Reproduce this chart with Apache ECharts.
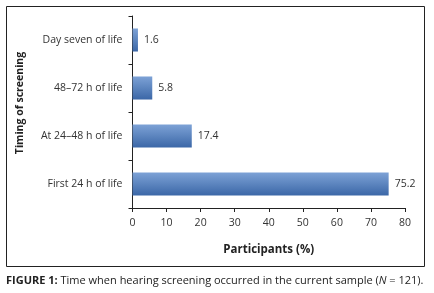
<!DOCTYPE html>
<html>
<head>
    <meta charset="utf-8" />
    <title>Hearing screening timing</title>
    <script src="https://cdn.jsdelivr.net/npm/echarts@6/dist/echarts.min.js"></script>
    <style type="text/css">
        * { margin: 0; padding: 0; }
        html, body { width: 434px; height: 293px; background: #fff; }
        #chart { width: 434px; height: 293px; }
    </style>
</head>
<body>
    <div id="chart"></div>
</body>
</html>
<script type="text/javascript">
    // categories listed bottom to top
    var categories = ['First 24 h of life', 'At 24\u201348 h of life', '48\u201372 h of life', 'Day seven of life'];
    var values = [75.2, 17.4, 5.8, 1.6];
    var xTicks = [0, 10, 20, 30, 40, 50, 60, 70, 80];

    var font = 'Open Sans';
    var myChart = echarts.init(document.getElementById('chart'));

    var option = {
        backgroundColor: '#fff',
        animation: false,
        textStyle: { fontFamily: font },
        grid: { left: 132.5, right: 29, top: 16, bottom: 85 },
        xAxis: {
            type: 'value',
            min: xTicks[0],
            max: xTicks[xTicks.length - 1],
            interval: 10,
            name: 'Participants (%)',
            nameLocation: 'middle',
            nameGap: 36,
            nameTextStyle: { color: '#222', fontSize: 11.5, fontWeight: 'bold', fontFamily: font },
            axisLine: { show: true, lineStyle: { color: '#222', width: 1 } },
            axisTick: { show: true, length: 4, lineStyle: { color: '#222' } },
            axisLabel: { color: '#333', fontSize: 10.5, margin: 10, fontFamily: font },
            splitLine: { show: false }
        },
        yAxis: {
            type: 'category',
            data: categories,
            axisLine: { show: true, lineStyle: { color: '#222', width: 1 } },
            axisTick: { show: true, length: 4, lineStyle: { color: '#222' } },
            axisLabel: { color: '#333', fontSize: 10.5, margin: 10, fontFamily: font }
        },
        series: [{
            type: 'bar',
            data: values,
            barCategoryGap: '52%',
            itemStyle: {
                color: new echarts.graphic.LinearGradient(0, 0, 0, 1, [
                    { offset: 0, color: '#7da2d6' },
                    { offset: 1, color: '#3b67a7' }
                ])
            },
            label: {
                show: true,
                position: 'right',
                distance: 6,
                color: '#333',
                fontSize: 10.5,
                fontFamily: font,
                formatter: function (p) { return p.value.toFixed(1); }
            }
        }],
        graphic: [
            {
                type: 'rect',
                shape: { x: 6.5, y: 6.5, width: 418, height: 260 },
                style: { fill: 'none', stroke: '#222', lineWidth: 1 },
                silent: true
            },
            {
                // y axis title, placed a little above the plot centre as in the figure
                type: 'text',
                x: 20,
                y: 103,
                rotation: Math.PI / 2,
                style: {
                    text: 'Timing of screening',
                    fontFamily: font,
                    fontSize: 10.5,
                    fontWeight: 'bold',
                    fill: '#222',
                    align: 'center',
                    verticalAlign: 'middle'
                }
            },
            {
                type: 'text',
                left: 6,
                top: 275,
                style: {
                    text: '{b|FIGURE 1:} Time when hearing screening occurred in the current sample ({i|N} = 121).',
                    fontFamily: font,
                    fontSize: 11,
                    fill: '#222',
                    rich: {
                        b: { fontWeight: 'bold', fontSize: 11, fontFamily: font, fill: '#222' },
                        i: { fontStyle: 'italic', fontSize: 11, fontFamily: font, fill: '#222' }
                    }
                }
            }
        ]
    };

    myChart.setOption(option);
</script>
